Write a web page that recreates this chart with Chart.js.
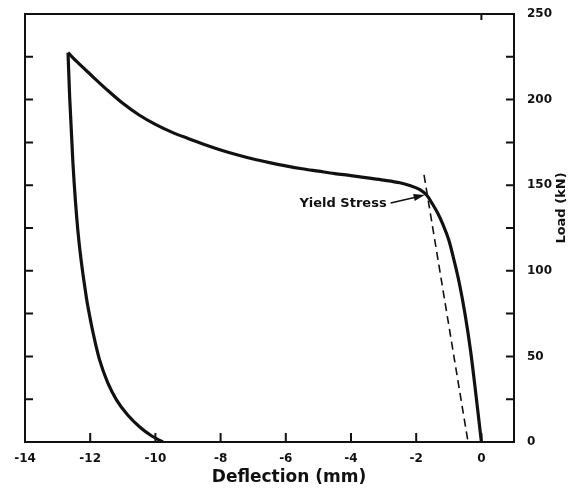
<!DOCTYPE html>
<html>
<head>
<meta charset="utf-8">
<script src="https://cdn.jsdelivr.net/npm/chart.js@4.4.1/dist/chart.umd.min.js"></script>
<style>
  html, body { margin: 0; padding: 0; background: #fff; }
  #wrap { width: 571px; height: 493px; }
</style>
</head>
<body>
<div id="wrap"><canvas id="grafico" width="571" height="493"></canvas></div>
<script>
// dados (deflexão em mm, carga em kN)
const cargaX = [0, -0.17, -0.33, -0.5, -0.68, -0.85, -1.0, -1.19, -1.35, -1.5, -1.68, -1.9, -2.2, -2.5, -3.0,
  -3.5, -4.0, -4.5, -5.0, -5.5, -6.0, -6.5, -7.0, -7.5, -8.0, -8.5, -9.0, -9.5, -10.0, -10.5, -11.0,
  -11.5, -12.0, -12.4, -12.68];
const cargaY = [0, 28, 53, 74.5, 93, 107, 118, 127.5, 134, 139, 144.3, 147.6, 149.8, 151.4, 153,
  154.3, 155.6, 156.8, 158.2, 159.6, 161.3, 163.2, 165.3, 167.8, 170.6, 173.8, 177.3, 181, 185.5, 191, 197.8,
  206, 214.8, 222, 227.4];

const descargaX = [-12.68, -12.63, -12.53, -12.38, -12.12, -12.03, -11.93, -11.82, -11.71, -11.46, -11.19, -10.85,
  -10.48, -10.11, -9.77];
const descargaY = [227.4, 201.6, 163, 123.8, 84.7, 75, 65.4, 56, 47.8, 34.5, 24.5, 15.8, 8.8, 3.5, 0];

const elasticaX = [-1.76, -0.41];
const elasticaY = [156, 0];

const escoamento = { x: -1.68, y: 144.3 };   // ponto "Yield Stress"

const xTicks = [-14, -12, -10, -8, -6, -4, -2, 0];
const yTicks = [0, 25, 50, 75, 100, 125, 150, 175, 200, 225, 250];

const pontos = (xs, ys) => xs.map((x, i) => ({ x, y: ys[i] }));

const fonte = 'DejaVu Sans, Verdana, sans-serif';

// moldura, ticks internos, títulos e anotação
const molduraPlugin = {
  id: 'moldura',
  afterDraw(chart) {
    const { ctx, chartArea: a, scales } = chart;
    const sx = scales.x, sy = scales.y;
    ctx.save();
    ctx.strokeStyle = '#111';
    ctx.lineWidth = 2;
    ctx.strokeRect(a.left, a.top, a.right - a.left, a.bottom - a.top);

    ctx.beginPath();
    xTicks.forEach(v => {
      const px = sx.getPixelForValue(v);
      ctx.moveTo(px, a.bottom);
      ctx.lineTo(px, a.bottom - 9);
    });
    yTicks.forEach(v => {
      const py = sy.getPixelForValue(v);
      ctx.moveTo(a.left, py);
      ctx.lineTo(a.left + 8, py);
      ctx.moveTo(a.right, py);
      ctx.lineTo(a.right - 8, py);
    });
    ctx.moveTo(sx.getPixelForValue(0), a.top);
    ctx.lineTo(sx.getPixelForValue(0), a.top + 6);
    ctx.stroke();

    // títulos dos eixos
    ctx.fillStyle = '#111';
    ctx.font = 'bold 17px ' + fonte;
    ctx.textAlign = 'center';
    ctx.textBaseline = 'middle';
    ctx.fillText('Deflection (mm)', 289, 478);

    ctx.save();
    ctx.translate(562, 208);
    ctx.rotate(-Math.PI / 2);
    ctx.font = 'bold 13px ' + fonte;
    ctx.fillText('Load (kN)', 0, 0);
    ctx.restore();

    // anotação com seta
    const px = sx.getPixelForValue(escoamento.x);
    const py = sy.getPixelForValue(escoamento.y);
    ctx.font = 'bold 13px ' + fonte;
    ctx.textAlign = 'right';
    ctx.fillText('Yield Stress', px - 40, py + 9);
    const x0 = px - 36, y0 = py + 8;
    const x1 = px - 2, y1 = py;
    ctx.lineWidth = 1.6;
    ctx.beginPath();
    ctx.moveTo(x0, y0);
    ctx.lineTo(x1 - 8, y1 + 2);
    ctx.stroke();
    const ang = Math.atan2(y1 - y0, x1 - x0);
    ctx.beginPath();
    ctx.moveTo(x1, y1);
    ctx.lineTo(x1 - 11 * Math.cos(ang) - 3.5 * Math.sin(ang), y1 - 11 * Math.sin(ang) + 3.5 * Math.cos(ang));
    ctx.lineTo(x1 - 11 * Math.cos(ang) + 3.5 * Math.sin(ang), y1 - 11 * Math.sin(ang) - 3.5 * Math.cos(ang));
    ctx.closePath();
    ctx.fill();
    ctx.restore();
  }
};

const ctx = document.getElementById('grafico').getContext('2d');

new Chart(ctx, {
  type: 'scatter',
  data: {
    datasets: [
      {
        label: 'Carga',
        data: pontos(cargaX, cargaY),
        showLine: true,
        borderColor: '#111',
        borderWidth: 3.2,
        pointRadius: 0,
        cubicInterpolationMode: 'monotone'
      },
      {
        label: 'Descarga',
        data: pontos(descargaX, descargaY),
        showLine: true,
        borderColor: '#111',
        borderWidth: 3.2,
        pointRadius: 0,
        cubicInterpolationMode: 'monotone'
      },
      {
        label: 'Elástica',
        data: pontos(elasticaX, elasticaY),
        showLine: true,
        borderColor: '#111',
        borderWidth: 1.6,
        borderDash: [8, 5],
        pointRadius: 0
      }
    ]
  },
  options: {
    responsive: false,
    animation: false,
    layout: { padding: { left: 25, top: 14, right: 0, bottom: 0 } },
    plugins: {
      legend: { display: false },
      tooltip: { enabled: false }
    },
    scales: {
      x: {
        type: 'linear',
        min: -14,
        max: 1,
        afterFit: s => { s.height = 51; s.paddingLeft = 0; s.paddingRight = 0; },
        grid: { display: false },
        border: { display: false },
        ticks: {
          stepSize: 2,
          includeBounds: false,
          padding: 2,
          color: '#111',
          font: { family: fonte, size: 12, weight: 'bold' },
          callback: v => (xTicks.includes(v) ? String(v) : '')
        }
      },
      y: {
        type: 'linear',
        position: 'right',
        min: 0,
        max: 250,
        afterFit: s => { s.width = 57; s.paddingTop = 0; s.paddingBottom = 0; },
        grid: { display: false },
        border: { display: false },
        ticks: {
          stepSize: 25,
          padding: 5,
          color: '#111',
          font: { family: fonte, size: 12, weight: 'bold' },
          callback: v => (v % 50 === 0 ? String(v) : '')
        }
      }
    }
  },
  plugins: [molduraPlugin]
});
</script>
</body>
</html>
